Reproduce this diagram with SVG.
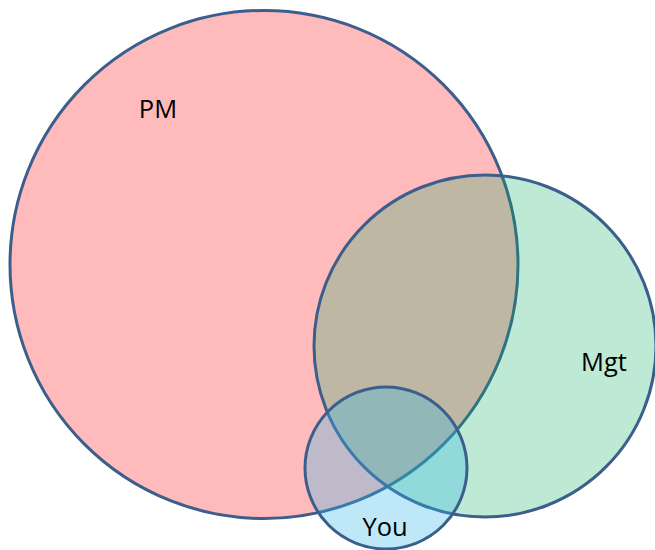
<svg xmlns="http://www.w3.org/2000/svg" width="655" height="550" viewBox="0 0 655 550">
<style>
.c{stroke:#3B5E8C;stroke-width:3}
.t{font-family:"Open Sans","Liberation Sans",sans-serif;font-size:25.5px;fill:#000;text-anchor:middle}
</style>
<rect width="655" height="550" fill="#fff"/>
<g id="pm"><circle class="c" cx="264" cy="264.5" r="254" fill="#FFBBBB"/></g>
<g id="mgt"><circle class="c" cx="485" cy="346" r="171" fill="rgb(10,175,100)" fill-opacity="0.27"/></g>
<g id="you"><circle class="c" cx="386" cy="468" r="81" fill="rgb(53,184,234)" fill-opacity="0.32"/></g>
<g id="labels">
<text class="t" x="158" y="118">PM</text>
<text class="t" x="604" y="371">Mgt</text>
<text class="t" x="385" y="536">You</text>
</g>
<g id="connectors"/>
</svg>
